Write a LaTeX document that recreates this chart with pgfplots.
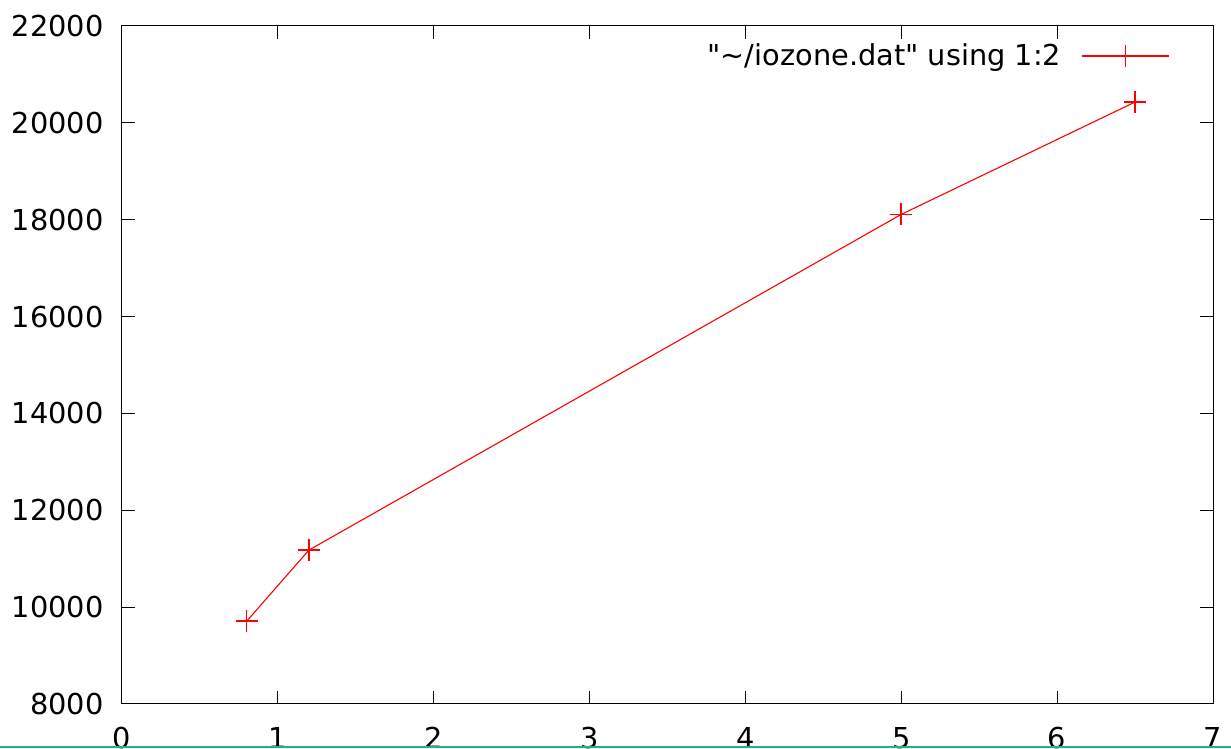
\documentclass[border=0pt]{standalone}
\usepackage{pgfplots}
\pgfplotsset{compat=1.18}
\usepackage{fontspec}
\setmainfont{DejaVu Sans}[Ligatures=TeXOff]
\begin{document}
\begin{tikzpicture}
\begin{axis}[
  at={(0,0)}, anchor=south west,
  scale only axis, width=545.5pt, height=339pt,
  xmin=0, xmax=7, ymin=8000, ymax=22000,
  xtick={0,1,...,7}, ytick={8000,10000,...,22000},
  scaled y ticks=false,
  tick align=inside, major tick length=6.5pt,
  axis line style={line width=0.5pt, draw=black},
  every tick/.style={draw=black, line width=0.5pt},
  tick label style={text=black, font=\fontsize{14.4}{17}\selectfont, /pgf/number format/assume math mode=true},
  /pgf/number format/1000 sep={},
  xticklabel style={anchor=north, inner sep=0pt, yshift=-11.5pt},
  yticklabel style={anchor=east, inner sep=0pt, xshift=-9pt},
  legend plot pos=right,
  legend style={draw=none, fill=none, text=black, font=\fontsize{14.4}{17}\selectfont,
    at={(rel axis cs:1,1)}, anchor=east, xshift=-21.5pt, yshift=-15pt, inner sep=0pt,
    /tikz/every odd column/.append style={column sep=8pt}},
  legend image code/.code={\draw[#1, draw=red, line width=0.75pt, mark repeat=2, mark phase=2] plot coordinates {(0pt,0pt) (21.75pt,0pt) (43.5pt,0pt)};},
]
\addplot[color=red, draw=red, line width=0.55pt, mark=+, mark size=5.5pt, mark options={draw=red, solid, line width=0.8pt}] coordinates {
  (0.8,9710) (1.2,11180) (5.0,18110) (6.5,20430)
};
\addlegendentry{"\textasciitilde/iozone.dat" using 1:2}
\end{axis}
\draw[color={rgb,255:red,32;green,178;blue,128}, line width=1pt] (-61pt,-21.75pt) -- (554.5pt,-21.75pt);
\pgfresetboundingbox
\useasboundingbox (-61pt,-22.5pt) rectangle (554.5pt,352pt);
\end{tikzpicture}
\end{document}
